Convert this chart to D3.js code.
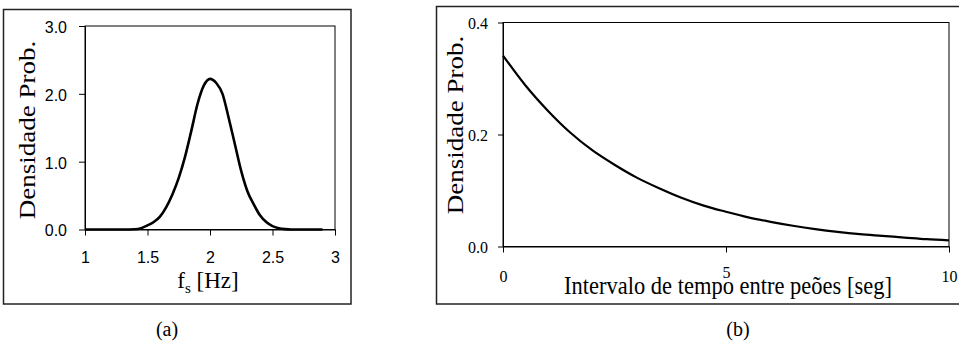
<!DOCTYPE html>
<html>
<head>
<meta charset="utf-8">
<script src="https://cdn.jsdelivr.net/npm/d3@7"></script>
<style>
  body { margin: 0; background: #fff; }
  svg { display: block; }
</style>
</head>
<body>
<div id="chart"></div>
<script>
// (a) frequência de passo
const fsHz = [1.0, 1.2, 1.3, 1.4, 1.45, 1.5, 1.55, 1.6, 1.65, 1.7, 1.75, 1.8, 1.85, 1.9, 1.95, 2.0,
              2.05, 2.1, 2.15, 2.2, 2.25, 2.3, 2.35, 2.4, 2.45, 2.5, 2.55, 2.6, 2.65, 2.7, 2.8, 2.9];
const densA = [0, 0, 0, 0.003, 0.02, 0.06, 0.11, 0.19, 0.33, 0.52, 0.76, 1.07, 1.45, 1.85, 2.12, 2.22,
               2.16, 2.0, 1.64, 1.25, 0.86, 0.56, 0.37, 0.21, 0.11, 0.05, 0.02, 0.005, 0, 0, 0, 0];
const ticksAx = [1, 1.5, 2, 2.5, 3];
const ticksAy = [0, 1, 2, 3];

// (b) intervalo entre peões
const tSeg = [0, 0.5, 1, 1.5, 2, 2.5, 3, 3.5, 4, 4.5, 5, 5.5, 6, 6.5, 7, 7.5, 8, 8.5, 9, 9.5, 10];
const densB = [0.341, 0.288, 0.243, 0.204, 0.172, 0.146, 0.123, 0.104, 0.087, 0.073, 0.062,
               0.052, 0.044, 0.037, 0.031, 0.026, 0.022, 0.019, 0.016, 0.013, 0.011];
const ticksBx = [0, 5, 10];
const ticksBy = [0, 0.2, 0.4];

const W = 959, H = 344;
const serif = "'Liberation Serif', 'Times New Roman', serif";
const sans = "'Liberation Sans', Arial, sans-serif";
const stretch = 1.15;

const svg = d3.select("#chart").append("svg")
    .attr("width", W)
    .attr("height", H);

// cadres extérieurs
svg.append("rect")
    .attr("x", 3.5).attr("y", 9.5).attr("width", 347.5).attr("height", 294.5)
    .attr("fill", "none").attr("stroke", "#222").attr("stroke-width", 1.5);
svg.append("rect")
    .attr("x", 436.5).attr("y", 6.5).attr("width", 540).attr("height", 297.5)
    .attr("fill", "none").attr("stroke", "#222").attr("stroke-width", 1.5);

/* ---------- painel (a) ---------- */
const xa = d3.scaleLinear().domain([1, 3]).range([85, 335]);
const ya = d3.scaleLinear().domain([0, 3]).range([229.5, 26]);

const ga = svg.append("g");

ga.append("rect")
    .attr("x", xa(1)).attr("y", ya(3))
    .attr("width", xa(3) - xa(1)).attr("height", ya(0) - ya(3))
    .attr("fill", "none").attr("stroke", "#000").attr("stroke-width", 1);

const axA_y = ga.append("g")
    .attr("transform", `translate(${xa(1)},0)`)
    .call(d3.axisLeft(ya).tickValues(ticksAy).tickSize(6).tickSizeOuter(0)
      .tickPadding(12).tickFormat(d3.format(".1f")));
axA_y.selectAll("text").attr("font-family", sans).attr("font-size", 16).attr("fill", "#000").attr("dy", "0.4em");

const axA_x = ga.append("g")
    .attr("transform", `translate(0,${ya(0)})`)
    .call(d3.axisBottom(xa).tickValues(ticksAx).tickSize(6).tickSizeOuter(0)
      .tickFormat(d => String(d)));
axA_x.selectAll("text").attr("font-family", sans).attr("font-size", 16).attr("fill", "#000")
    .attr("y", 33.5).attr("dy", 0);

[axA_y, axA_x].forEach(a => {
  a.select(".domain").attr("stroke", "#000");
  a.selectAll("line").attr("stroke", "#000");
});

ga.append("path")
    .datum(fsHz.map((x, i) => [x, densA[i]]))
    .attr("fill", "none")
    .attr("stroke", "#000")
    .attr("stroke-width", 2.6)
    .attr("stroke-linejoin", "round")
    .attr("d", d3.line().x(d => xa(d[0])).y(d => ya(d[1])).curve(d3.curveMonotoneX));

ga.append("text")
    .attr("transform", `translate(35,130) rotate(-90) scale(${stretch},1)`)
    .attr("text-anchor", "middle")
    .attr("font-family", serif).attr("font-size", 23.5)
    .text("Densidade Prob.");

const tA = ga.append("text")
    .attr("x", 208).attr("y", 288)
    .attr("text-anchor", "middle")
    .attr("font-family", serif).attr("font-size", 23);
tA.append("tspan").text("f");
tA.append("tspan").attr("font-size", 15).attr("dy", 5).text("s");
tA.append("tspan").attr("dy", -5).text(" [Hz]");

/* ---------- painel (b) ---------- */
const xb = d3.scaleLinear().domain([0, 10]).range([503, 949]);
const yb = d3.scaleLinear().domain([0, 0.4]).range([246.5, 22.5]);

const gb = svg.append("g");

gb.append("rect")
    .attr("x", xb(0)).attr("y", yb(0.4))
    .attr("width", xb(10) - xb(0)).attr("height", yb(0) - yb(0.4))
    .attr("fill", "none").attr("stroke", "#000").attr("stroke-width", 1);

const axB_y = gb.append("g")
    .attr("transform", `translate(${xb(0)},0)`)
    .call(d3.axisLeft(yb).tickValues(ticksBy).tickSize(5).tickSizeOuter(0)
      .tickPadding(10).tickFormat(d3.format(".1f")));
axB_y.selectAll("text").attr("font-family", serif).attr("font-size", 16).attr("fill", "#000").attr("dy", "0.35em");

const axB_x = gb.append("g")
    .attr("transform", `translate(0,${yb(0)})`)
    .call(d3.axisBottom(xb).tickValues(ticksBx).tickSize(6).tickSizeOuter(0)
      .tickFormat(d => String(d)));
axB_x.selectAll("text").attr("font-family", serif).attr("font-size", 16).attr("fill", "#000")
    .attr("y", d => d === 5 ? 31.5 : 35.5).attr("dy", 0);

[axB_y, axB_x].forEach(a => {
  a.select(".domain").attr("stroke", "#000");
  a.selectAll("line").attr("stroke", "#000");
});

gb.append("path")
    .datum(tSeg.map((x, i) => [x, densB[i]]))
    .attr("fill", "none")
    .attr("stroke", "#000")
    .attr("stroke-width", 2.2)
    .attr("d", d3.line().x(d => xb(d[0])).y(d => yb(d[1])).curve(d3.curveMonotoneX));

gb.append("text")
    .attr("transform", `translate(463,125) rotate(-90) scale(${stretch},1)`)
    .attr("text-anchor", "middle")
    .attr("font-family", serif).attr("font-size", 23.5)
    .text("Densidade Prob.");

gb.append("text")
    .attr("transform", `translate(728,294) scale(1,${stretch})`)
    .attr("text-anchor", "middle")
    .attr("font-family", serif).attr("font-size", 22.5)
    .text("Intervalo de tempo entre peões [seg]");

/* légendes (a) (b) */
svg.append("text")
    .attr("x", 167).attr("y", 336)
    .attr("text-anchor", "middle")
    .attr("font-family", serif).attr("font-size", 20)
    .text("(a)");
svg.append("text")
    .attr("x", 738).attr("y", 336)
    .attr("text-anchor", "middle")
    .attr("font-family", serif).attr("font-size", 20)
    .text("(b)");
</script>
</body>
</html>
